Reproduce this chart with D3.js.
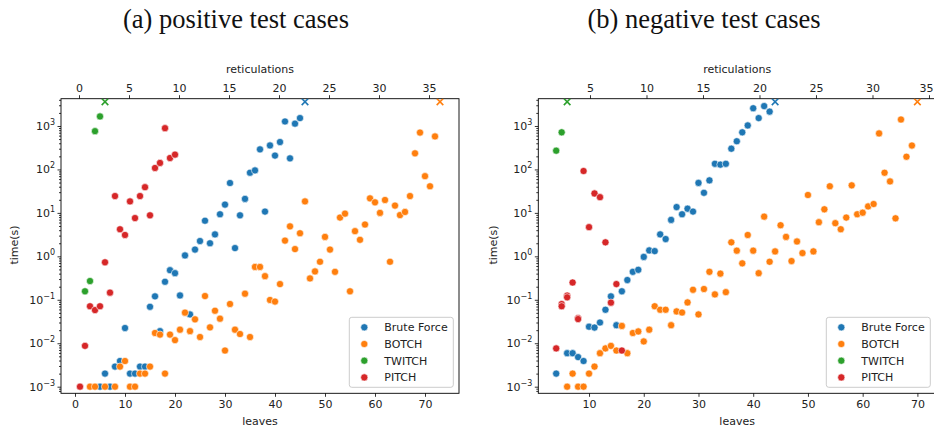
<!DOCTYPE html>
<html><head><meta charset="utf-8">
<script src="https://cdn.jsdelivr.net/npm/d3@7"></script>
<style>body{margin:0;background:#fff} svg{display:block}</style>
</head><body>
<script>
const seriesNames = ["Brute Force", "BOTCH", "TWITCH", "PITCH"];
const seriesColors = ["#1f77b4", "#ff7f0e", "#2ca02c", "#d62728"];
const TIMEOUT = 3600;
const leavesTicksPos = [0, 10, 20, 30, 40, 50, 60, 70];
const leavesTicksNeg = [10, 20, 30, 40, 50, 60, 70];
const retTicksPos = [0, 5, 10, 15, 20, 25, 30, 35];
const retTicksNeg = [5, 10, 15, 20, 25, 30, 35];
const yExps = [-3, -2, -1, 0, 1, 2, 3];

// (a) positive test cases: [leaves, time(s)]
const posBrute = [[5,0.001],[6,0.002],[7,0.001],[8,0.0029],[9,0.0039],[10,0.0224],[11,0.002],[12,0.002],[13,0.0029],[14,0.0029],[15,0.069],[16,0.12],[17,0.019],[18,0.26],[19,0.48],[20,0.41],[21,0.126],[22,1.05],[23,0.046],[24,1.43],[25,2.25],[26,6.6],[27,2.0],[28,3.2],[29,9.3],[30,15.5],[31,48.7],[32,1.55],[33,8.8],[34,21],[35,84],[36,95],[37,290],[38,10.7],[39,357],[40,208],[41,427],[42,1270],[43,180],[44,1130],[45,1520]];
const posBotch = [[3,0.001],[4,0.001],[6,0.001],[8,0.001],[9,0.0029],[10,0.0039],[11,0.001],[12,0.001],[13,0.002],[14,0.002],[15,0.0029],[16,0.0172],[17,0.0158],[18,0.002],[19,0.0158],[20,0.0118],[21,0.0205],[22,0.0506],[23,0.019],[24,0.0355],[25,0.0139],[26,0.122],[27,0.0232],[28,0.056],[29,0.0367],[30,0.0068],[31,0.08],[32,0.0205],[33,0.0163],[34,0.138],[35,0.0139],[36,0.57],[37,0.57],[38,0.35],[39,0.099],[40,0.091],[41,0.23],[42,2.3],[43,4.9],[44,1.47],[45,3.4],[46,18.4],[47,0.31],[48,0.45],[49,0.75],[50,2.8],[51,1.43],[52,0.44],[53,7.8],[54,9.6],[55,0.157],[56,3.8],[57,2.4],[58,5.4],[59,21.6],[60,17.5],[61,10],[62,19.8],[63,0.75],[64,14.7],[65,8.9],[66,10.5],[67,24.4],[68,235],[69,705],[70,70],[71,41],[72,575]];
const posTwitch = [[2,0.157],[3,0.27],[4,760],[5,1660]];
const posPitch = [[1,0.001],[2,0.0087],[3,0.071],[4,0.058],[5,0.071],[6,0.73],[7,0.146],[8,24.4],[9,4.2],[10,3.1],[11,18.4],[12,7.6],[13,24.4],[14,39],[15,8.8],[16,108],[17,141],[18,890],[19,183],[20,219]];
const posTimeoutLeaves = [46, 73, 6, null]; // per series: Brute Force, BOTCH, TWITCH, PITCH

// (b) negative test cases: [leaves, time(s)]
const negBrute = [[4,0.002],[6,0.0059],[7,0.0059],[8,0.0048],[9,0.0039],[10,0.024],[11,0.023],[12,0.030],[13,0.059],[14,0.12],[15,0.026],[16,0.157],[17,0.285],[18,0.44],[19,0.49],[20,0.97],[21,1.37],[22,1.32],[23,3.2],[24,2.5],[25,6.9],[26,13.6],[27,9.3],[28,12.5],[29,10.7],[30,49],[31,29],[32,56],[33,135],[34,129],[35,135],[36,300],[37,445],[38,715],[39,1030],[40,2560],[41,1520],[42,2870],[43,2140]];
const negBotch = [[6,0.001],[7,0.002],[8,0.001],[9,0.001],[10,0.002],[11,0.0029],[12,0.0059],[13,0.0076],[14,0.0087],[15,0.0068],[16,0.025],[17,0.0059],[18,0.0172],[19,0.0187],[20,0.011],[21,0.0205],[22,0.071],[23,0.059],[24,0.059],[25,0.026],[26,0.054],[27,0.051],[28,0.087],[29,0.17],[30,0.046],[31,0.177],[32,0.44],[33,0.133],[34,0.40],[35,0.15],[36,2.1],[37,1.35],[38,0.69],[39,3.1],[40,1.35],[41,0.41],[42,8.2],[43,0.75],[44,1.3],[45,5.2],[46,2.8],[47,0.78],[48,2.2],[49,1.19],[50,25.8],[51,1.3],[52,6.1],[53,12.1],[54,41],[55,5.8],[56,4.2],[57,7.8],[58,43],[59,9.3],[60,10.1],[61,14.1],[62,16],[63,675],[64,84],[65,53],[66,7.5],[67,1410],[68,196],[69,355]];
const negTwitch = [[4,270],[5,715]];
const negPitch = [[4,0.0076],[5,0.08],[5,0.071],[6,0.125],[6,0.114],[7,0.25],[8,0.038],[8,0.036],[9,92],[10,4.7],[11,28],[12,23],[13,2.1],[14,0.086],[15,0.23],[16,0.0068]];
const negTimeoutLeaves = [44, 70, 6, null];

const titles = ["(a) positive test cases", "(b) negative test cases"];

const W = 934, H = 428;
const svg = d3.select("body").append("svg").attr("width", W).attr("height", H)
  .attr("font-family", "DejaVu Sans, sans-serif");

const panels = [
  { title: titles[0], titleX: 236, px: [61, 459], leaves: [-2.8, 76.8], ret: [-1.8, 38],
    lt: leavesTicksPos, rt: retTicksPos, series: [posBrute, posBotch, posTwitch, posPitch],
    timeouts: posTimeoutLeaves, ylabX: 18 },
  { title: titles[1], titleX: 704, px: [538.3, 936], leaves: [0.73, 73.4], ret: [0.425, 35.62],
    lt: leavesTicksNeg, rt: retTicksNeg, series: [negBrute, negBotch, negTwitch, negPitch],
    timeouts: negTimeoutLeaves, ylabX: 497 }
];

const yTop = 98.7, yBot = 393.3;
const y = d3.scaleLog().domain([Math.pow(10, -3.152), Math.pow(10, 3.628)]).range([yBot, yTop]);

panels.forEach(p => {
  const x = d3.scaleLinear().domain(p.leaves).range(p.px);
  const xr = d3.scaleLinear().domain(p.ret).range(p.px);
  const g = svg.append("g");

  // title
  g.append("text").attr("x", p.titleX).attr("y", 28).attr("text-anchor", "middle")
    .attr("font-family", "Liberation Serif, DejaVu Serif, serif").attr("font-size", 26.5)
    .attr("fill", "#111").text(p.title);

  const cid = "clip" + p.titleX;
  svg.append("clipPath").attr("id", cid).append("rect")
    .attr("x", p.px[0]).attr("y", yTop).attr("width", p.px[1] - p.px[0]).attr("height", yBot - yTop);

  const bx = d3.axisBottom(x).tickValues(p.lt).tickSize(3.5).tickPadding(3).tickFormat(d3.format("d"));
  const gb = g.append("g").attr("transform", `translate(0,${yBot})`).call(bx);
  const tx = d3.axisTop(xr).tickValues(p.rt).tickSize(3.5).tickPadding(3).tickFormat(d3.format("d"));
  const gt = g.append("g").attr("transform", `translate(0,${yTop})`).call(tx);
  const ly = d3.axisLeft(y).tickValues(yExps.map(e => Math.pow(10, e))).tickSize(3.5).tickPadding(3).tickFormat("");
  const gl = g.append("g").attr("transform", `translate(${p.px[0]},0)`).call(ly);
  const minors = [];
  for (let e = -4; e <= 3; e++) for (let m = 2; m <= 9; m++) {
    const v = m * Math.pow(10, e);
    if (v >= y.domain()[0] && v <= y.domain()[1]) minors.push(v);
  }
  const gm = g.append("g").attr("transform", `translate(${p.px[0]},0)`)
    .call(d3.axisLeft(y).tickValues(minors).tickSize(2).tickFormat(""));
  [gb, gt, gl, gm].forEach(a => {
    a.select(".domain").remove();
    a.selectAll("line").attr("stroke", "#000").attr("stroke-width", 0.8);
    a.selectAll("text").attr("font-size", 11).attr("fill", "#222").attr("font-family", "DejaVu Sans, sans-serif");
  });
  // keep top tick labels inside the picture
  gt.selectAll(".tick").each(function(d) {
    const xx = xr(d);
    if (xx + 7 > W) d3.select(this).select("text").attr("text-anchor", "end").attr("x", W - 1 - xx);
  });
  yExps.forEach(e => {
    const t = g.append("text").attr("x", p.px[0] - 6).attr("y", y(Math.pow(10, e)) + 4)
      .attr("text-anchor", "end").attr("font-size", 11).attr("fill", "#222");
    t.append("tspan").text("10");
    t.append("tspan").attr("dy", -5).attr("font-size", 8).text(String(e).replace("-", "\u2212"));
  });

  g.append("rect").attr("x", p.px[0]).attr("y", yTop).attr("width", p.px[1] - p.px[0]).attr("height", yBot - yTop)
    .attr("fill", "none").attr("stroke", "#000").attr("stroke-width", 0.9);

  g.append("text").attr("x", (p.px[0] + p.px[1]) / 2).attr("y", 425)
    .attr("text-anchor", "middle").attr("font-size", 11).attr("fill", "#222").text("leaves");
  g.append("text").attr("x", (p.px[0] + p.px[1]) / 2).attr("y", 73)
    .attr("text-anchor", "middle").attr("font-size", 11).attr("fill", "#222").text("reticulations");
  g.append("text").attr("transform", `translate(${p.ylabX},245) rotate(-90)`)
    .attr("text-anchor", "middle").attr("font-size", 11).attr("fill", "#222").text("time(s)");

  const pg = g.append("g").attr("clip-path", `url(#${cid})`);
  p.series.forEach((s, i) => {
    pg.selectAll(null).data(s).enter().append("circle")
      .attr("cx", d => x(d[0])).attr("cy", d => y(d[1])).attr("r", 3.6)
      .attr("fill", seriesColors[i]).attr("stroke", "#fff").attr("stroke-width", 0.6);
  });
  p.timeouts.forEach((L, i) => {
    if (L == null) return;
    const cx = x(L), cy = y(TIMEOUT), s = 3.3;
    pg.append("path").attr("d", `M${cx - s},${cy - s}L${cx + s},${cy + s}M${cx - s},${cy + s}L${cx + s},${cy - s}`)
      .attr("stroke", seriesColors[i]).attr("stroke-width", 1.6).attr("fill", "none");
  });

  const legRight = p.px[1] - 5.7, legW = 104, legX = legRight - legW, legY = 317.3, legH = 70;
  const lg = g.append("g");
  lg.append("rect").attr("x", legX).attr("y", legY).attr("width", legW).attr("height", legH)
    .attr("rx", 2.5).attr("fill", "#fff").attr("fill-opacity", 0.8).attr("stroke", "#ccc").attr("stroke-width", 1);
  seriesNames.forEach((n, i) => {
    const ry = legY + 10 + i * 16.7;
    lg.append("circle").attr("cx", legX + 15).attr("cy", ry).attr("r", 3.6)
      .attr("fill", seriesColors[i]).attr("stroke", "#fff").attr("stroke-width", 0.6);
    lg.append("text").attr("x", legX + 35).attr("y", ry + 4).attr("font-size", 11).attr("fill", "#222").text(n);
  });
});
</script>
</body></html>
